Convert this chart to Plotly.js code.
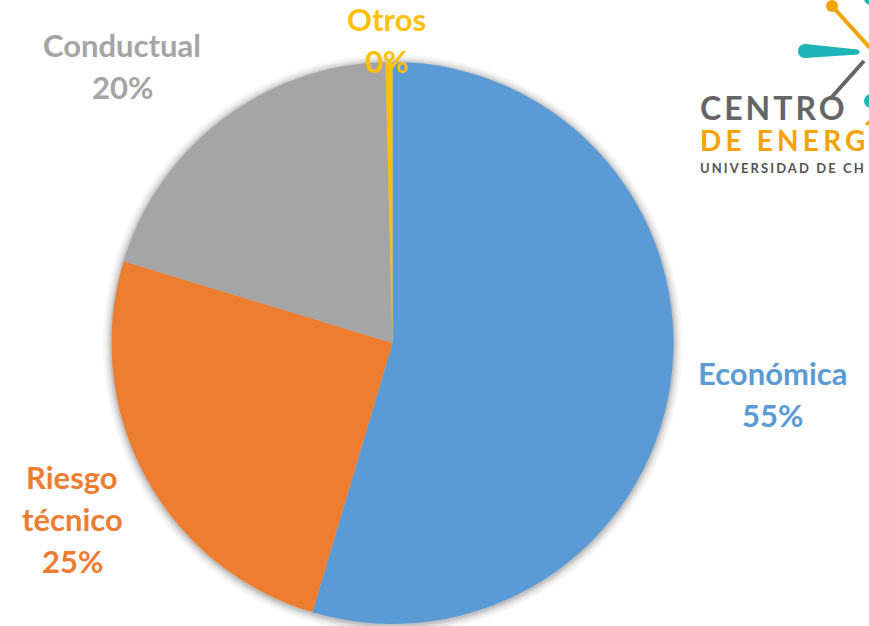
<!DOCTYPE html>
<html>
<head>
<meta charset="utf-8">
<script src="https://cdn.plot.ly/plotly-3.0.1.min.js"></script>
<style>html,body{margin:0;padding:0;background:#fff;overflow:hidden}</style>
</head>
<body>
<div id="chart" style="width:869px;height:626px"></div>
<script>
// ---- data ----
const labels = ['Económica', 'Riesgo técnico', 'Conductual', 'Otros'];
const values = [54.6, 25.1, 19.9, 0.4];
const colors = ['#5B9BD5', '#ED7D31', '#A5A5A5', '#FFC000'];
const logoLines = ['CENTRO', 'DE ENERG', 'UNIVERSIDAD DE CH'];

// ---- layout helpers ----
const W = 869, H = 626;
const px = x => x / W;
const py = y => 1 - y / H;
const cx = 392.5, cy = 343, R = 281;

const total = values.reduce((a, b) => a + b, 0);
const pctText = values.map(v => Math.round(v / total * 100) + '%');

// label block positions (centre x, first line centre y) in pixels
const labelPos = [[772, 373], [72, 477], [122, 45], [386, 19]];
const lineGap = 42;

const annotations = [];
labels.forEach((lab, i) => {
  const lines = lab.split(' ').concat([pctText[i]]);
  lines.forEach((t, j) => {
    annotations.push({
      xref: 'paper', yref: 'paper',
      x: px(labelPos[i][0]), y: py(labelPos[i][1] + j * lineGap),
      xanchor: 'center', yanchor: 'middle',
      text: t, showarrow: false,
      font: {family: 'Lato, Calibri, sans-serif', size: 31, weight: 700, color: colors[i]}
    });
  });
});

// logo text
const logoStyle = [
  {y: 107, size: 32, color: '#666666', spacing: 3},
  {y: 140, size: 28, color: '#F5A300', spacing: 4.2},
  {y: 168, size: 13, color: '#555555', spacing: 2.1}
];
logoLines.forEach((t, i) => {
  annotations.push({
    xref: 'paper', yref: 'paper', x: px(698), y: py(logoStyle[i].y),
    xanchor: 'left', yanchor: 'middle', align: 'left', text: t, showarrow: false,
    font: {family: 'Lato, sans-serif', size: logoStyle[i].size, weight: 700, color: logoStyle[i].color}
  });
});

const shapes = [];
// soft shadow around pie
[[9, 0.025], [7, 0.035], [5, 0.05], [3, 0.07], [1.5, 0.08]].forEach(([d, a]) => {
  shapes.push({type: 'circle', xref: 'paper', yref: 'paper', layer: 'below',
    x0: px(cx - R - d), x1: px(cx + R + d), y0: py(cy + R + d + 1), y1: py(cy - R - d + 1),
    fillcolor: 'rgba(0,0,0,' + a + ')', line: {width: 0}});
});
// logo graphics
const teal = '#1DB5B8', orange = '#F5A300', grey = '#666666';
const P = (x, y) => px(x).toFixed(5) + ',' + py(y).toFixed(5);
shapes.push({type: 'line', xref: 'paper', yref: 'paper', x0: px(832), y0: py(6), x1: px(872), y1: py(50), line: {color: orange, width: 4}});
shapes.push({type: 'circle', xref: 'paper', yref: 'paper', x0: px(826), x1: px(838), y0: py(12), y1: py(0), fillcolor: orange, line: {width: 0}});
shapes.push({type: 'path', xref: 'paper', yref: 'paper',
  path: 'M' + P(805, 44) + ' L' + P(858, 49.5) + ' L' + P(860, 52) + ' L' + P(858, 54.5) + ' L' + P(805, 58) +
        ' L' + P(800, 56) + ' L' + P(798, 51) + ' L' + P(800, 46) + ' Z',
  fillcolor: teal, line: {width: 0}});
shapes.push({type: 'circle', xref: 'paper', yref: 'paper', x0: px(798), x1: px(812), y0: py(58), y1: py(44), fillcolor: teal, line: {width: 0}});
shapes.push({type: 'line', xref: 'paper', yref: 'paper', x0: px(864), y0: py(61), x1: px(830), y1: py(99), line: {color: grey, width: 4}});
shapes.push({type: 'circle', xref: 'paper', yref: 'paper', x0: px(864), x1: px(878), y0: py(108), y1: py(94), fillcolor: teal, line: {width: 0}});
shapes.push({type: 'circle', xref: 'paper', yref: 'paper', x0: px(864), x1: px(878), y0: py(5), y1: py(-9), fillcolor: teal, line: {width: 0}});
// accent sliver of the clipped letter
shapes.push({type: 'line', xref: 'paper', yref: 'paper', x0: px(866), y0: py(125), x1: px(870), y1: py(121), line: {color: orange, width: 3}});

const data = [{
  type: 'pie',
  labels: labels,
  values: values,
  sort: false,
  direction: 'clockwise',
  rotation: 0,
  marker: {colors: colors, line: {width: 0}},
  textinfo: 'none',
  hoverinfo: 'label+percent',
  showlegend: false,
  domain: {x: [px(cx - R), px(cx + R)], y: [py(cy + R), py(cy - R)]}
}];

const layout = {
  width: W, height: H,
  margin: {l: 0, r: 0, t: 0, b: 0},
  paper_bgcolor: '#ffffff',
  showlegend: false,
  annotations: annotations,
  shapes: shapes
};

Plotly.newPlot('chart', data, layout, {displayModeBar: false, staticPlot: true}).then(() => {
  document.querySelectorAll('.annotation-text').forEach(t => {
    const idx = logoLines.indexOf(t.textContent);
    if (idx >= 0) {
      const before = t.getBBox().x;
      t.style.letterSpacing = logoStyle[idx].spacing + 'px';
      const after = t.getBBox().x;
      const shift = before - after;
      if (Math.abs(shift) > 0.1) {
        t.setAttribute('x', parseFloat(t.getAttribute('x') || 0) + shift);
        t.querySelectorAll('tspan[x]').forEach(s => s.setAttribute('x', parseFloat(s.getAttribute('x')) + shift));
      }
    }
  });
});
</script>
</body>
</html>
